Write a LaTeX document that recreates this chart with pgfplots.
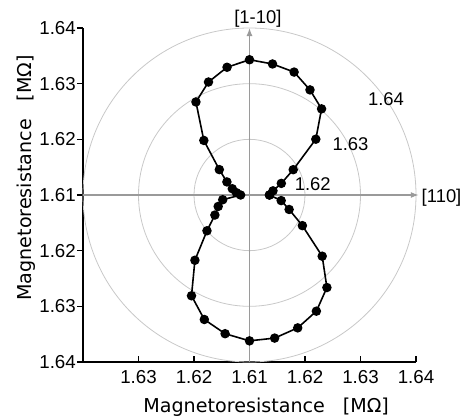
\documentclass[border=0pt]{standalone}
\usepackage{fontspec}
\setmainfont{Liberation Sans}
\newfontfamily\labelfont{DejaVu Sans}
\usepackage{pgfplots}
\pgfplotsset{compat=1.18}
\usetikzlibrary{arrows.meta}
\definecolor{circgray}{HTML}{C8C8C8}
\definecolor{axgray}{HTML}{9A9A9A}
\begin{document}
\begin{tikzpicture}
\useasboundingbox (-83bp,-58bp) rectangle (386bp,362bp);
\begin{axis}[
  scale only axis, width=333bp, height=334bp,
  xmin=-3, xmax=3, ymin=-3, ymax=3,
  axis lines=left,
  axis line style={-, line width=1.2bp, black},
  clip=false,
  xtick={-2,-1,0,1,2,3},
  xticklabels={1.63,1.62,1.61,1.62,1.63,1.64},
  ytick={-3,-2,-1,0,1,2,3},
  yticklabels={1.64,1.63,1.62,1.61,1.62,1.63,1.64},
  xtick align=inside, ytick align=outside,
  major tick length=6bp,
  tick style={black, line width=1.2bp},
  every tick label/.append style={font=\fontsize{18.8}{20}\selectfont},
  xticklabel style={anchor=base, yshift=-21.3bp},
  yticklabel style={anchor=east, inner sep=0pt, xshift=-1bp},
  xlabel={Magnetoresistance\hspace{0.94em}[MΩ]},
  ylabel={Magnetoresistance\hspace{0.94em}[MΩ]},
  every axis label/.append style={font=\labelfont\fontsize{19.2}{22}\selectfont},
  xlabel style={at={(axis description cs:0.55,-0.1506)}, anchor=base},
  ylabel style={at={(axis description cs:-0.154,0.551)}, anchor=base},
]
\draw[circgray, line width=0.8bp] (axis cs:0,0) circle [x radius=55.5bp, y radius=55.67bp];
\draw[circgray, line width=0.8bp] (axis cs:0,0) circle [x radius=111bp, y radius=111.33bp];
\draw[circgray, line width=0.8bp] (axis cs:0,0) circle [x radius=166.5bp, y radius=167bp];
\draw[axgray, line width=1.3bp, -{Latex[length=8bp,width=6bp]}] (axis cs:-3,0) -- (axis cs:3.05,0);
\draw[axgray, line width=1.3bp, -{Latex[length=8bp,width=6bp]}] (axis cs:0,-3) -- (axis cs:0,3);
\node[font=\fontsize{18.5}{20}\selectfont, anchor=base west, inner sep=0pt] at (axis cs:3.1,-0.13) {[110]};
\node[font=\fontsize{18.5}{20}\selectfont, anchor=base, inner sep=0pt] at (axis cs:0.15,3.085) {[1-10]};
\node[font=\fontsize{18.5}{20}\selectfont] at (axis cs:2.46,1.72) {1.64};
\node[font=\fontsize{18.5}{20}\selectfont] at (axis cs:1.82,0.92) {1.63};
\node[font=\fontsize{18.5}{20}\selectfont] at (axis cs:1.14,0.19) {1.62};
\addplot[data cs=polar, black, line width=1.6bp, mark=*, mark size=3.9bp,
  mark options={fill=black, solid}] coordinates {
  (0,0.36) (10,0.43) (20,0.61) (30,0.91) (40,1.56) (50,2.02)
  (60,2.18) (70,2.35) (80,2.39) (90,2.43) (100,2.33) (110,2.16)
  (120,1.93) (130,1.28) (140,0.71) (150,0.47) (160,0.33) (170,0.24)
  (180,0.16) (190,0.49) (200,0.60) (210,0.72) (220,1.00) (230,1.53)
  (240,2.09) (250,2.38) (260,2.53) (270,2.62) (280,2.61) (290,2.54)
  (300,2.41) (310,2.17) (320,1.71) (330,1.10) (340,0.76) (350,0.58)
  (360,0.36)
};
\end{axis}
\end{tikzpicture}
\end{document}
